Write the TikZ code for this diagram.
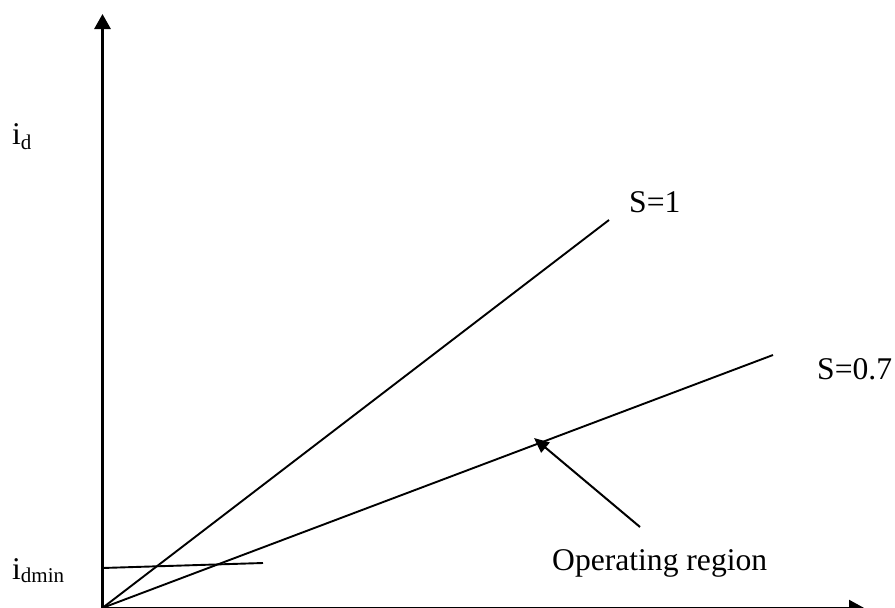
\documentclass[tikz,border=0pt]{standalone}
\usepackage{fontspec}
\setmainfont{Liberation Serif}
\usetikzlibrary{arrows.meta}
\newcommand{\lowsub}[2][-5pt]{\raisebox{#1}{\fontsize{21}{21}\selectfont #2}}
\begin{document}
\begin{tikzpicture}[x=1pt,y=-1pt,
  axisline/.style={line width=2.9pt,-{Triangle[width=16pt,length=15pt]}},
  slopeline/.style={line width=1.9pt},
  pointer/.style={line width=2pt,-{Triangle[width=13pt,length=15pt]}},
  lbl/.style={inner sep=0pt,anchor=base west,font=\fontsize{31.6}{36}\selectfont}]
  \useasboundingbox (0,0) rectangle (895,608);
  % axes
  \coordinate (O) at (102.5,607.9);
  \coordinate (Ytip) at (102.5,14);
  \coordinate (Xtip) at (864,607.9);
  \draw[axisline] (102.5,608) -- (Ytip);
  \draw[line width=1.6pt,-{Triangle[width=16pt,length=15pt]}] (O) -- (Xtip);
  % characteristic lines
  \coordinate (S1end) at (609,220);
  \coordinate (S7end) at (773,355);
  \draw[slopeline] (O) -- (S1end);
  \draw[slopeline] (O) -- (S7end);
  % minimum current level
  \coordinate (Dmin0) at (102.5,568);
  \coordinate (Dmin1) at (263,563);
  \draw[slopeline] (Dmin0) -- (Dmin1);
  % pointer to the operating region
  \coordinate (OpStart) at (640,527);
  \coordinate (OpTip) at (534,438);
  \draw[pointer] (OpStart) -- (OpTip);
  % labels
  \node[lbl] (id) at (12,144) {i\lowsub{d}};
  \node[lbl] (idmin) at (12,579) {i\lowsub[-3pt]{dmin}};
  \node[lbl] (s1) at (629,212) {S=1};
  \node[lbl] (s7) at (817,379) {S=0.7};
  \node[lbl] (op) at (552,570) {Operating region};
\end{tikzpicture}
\end{document}
